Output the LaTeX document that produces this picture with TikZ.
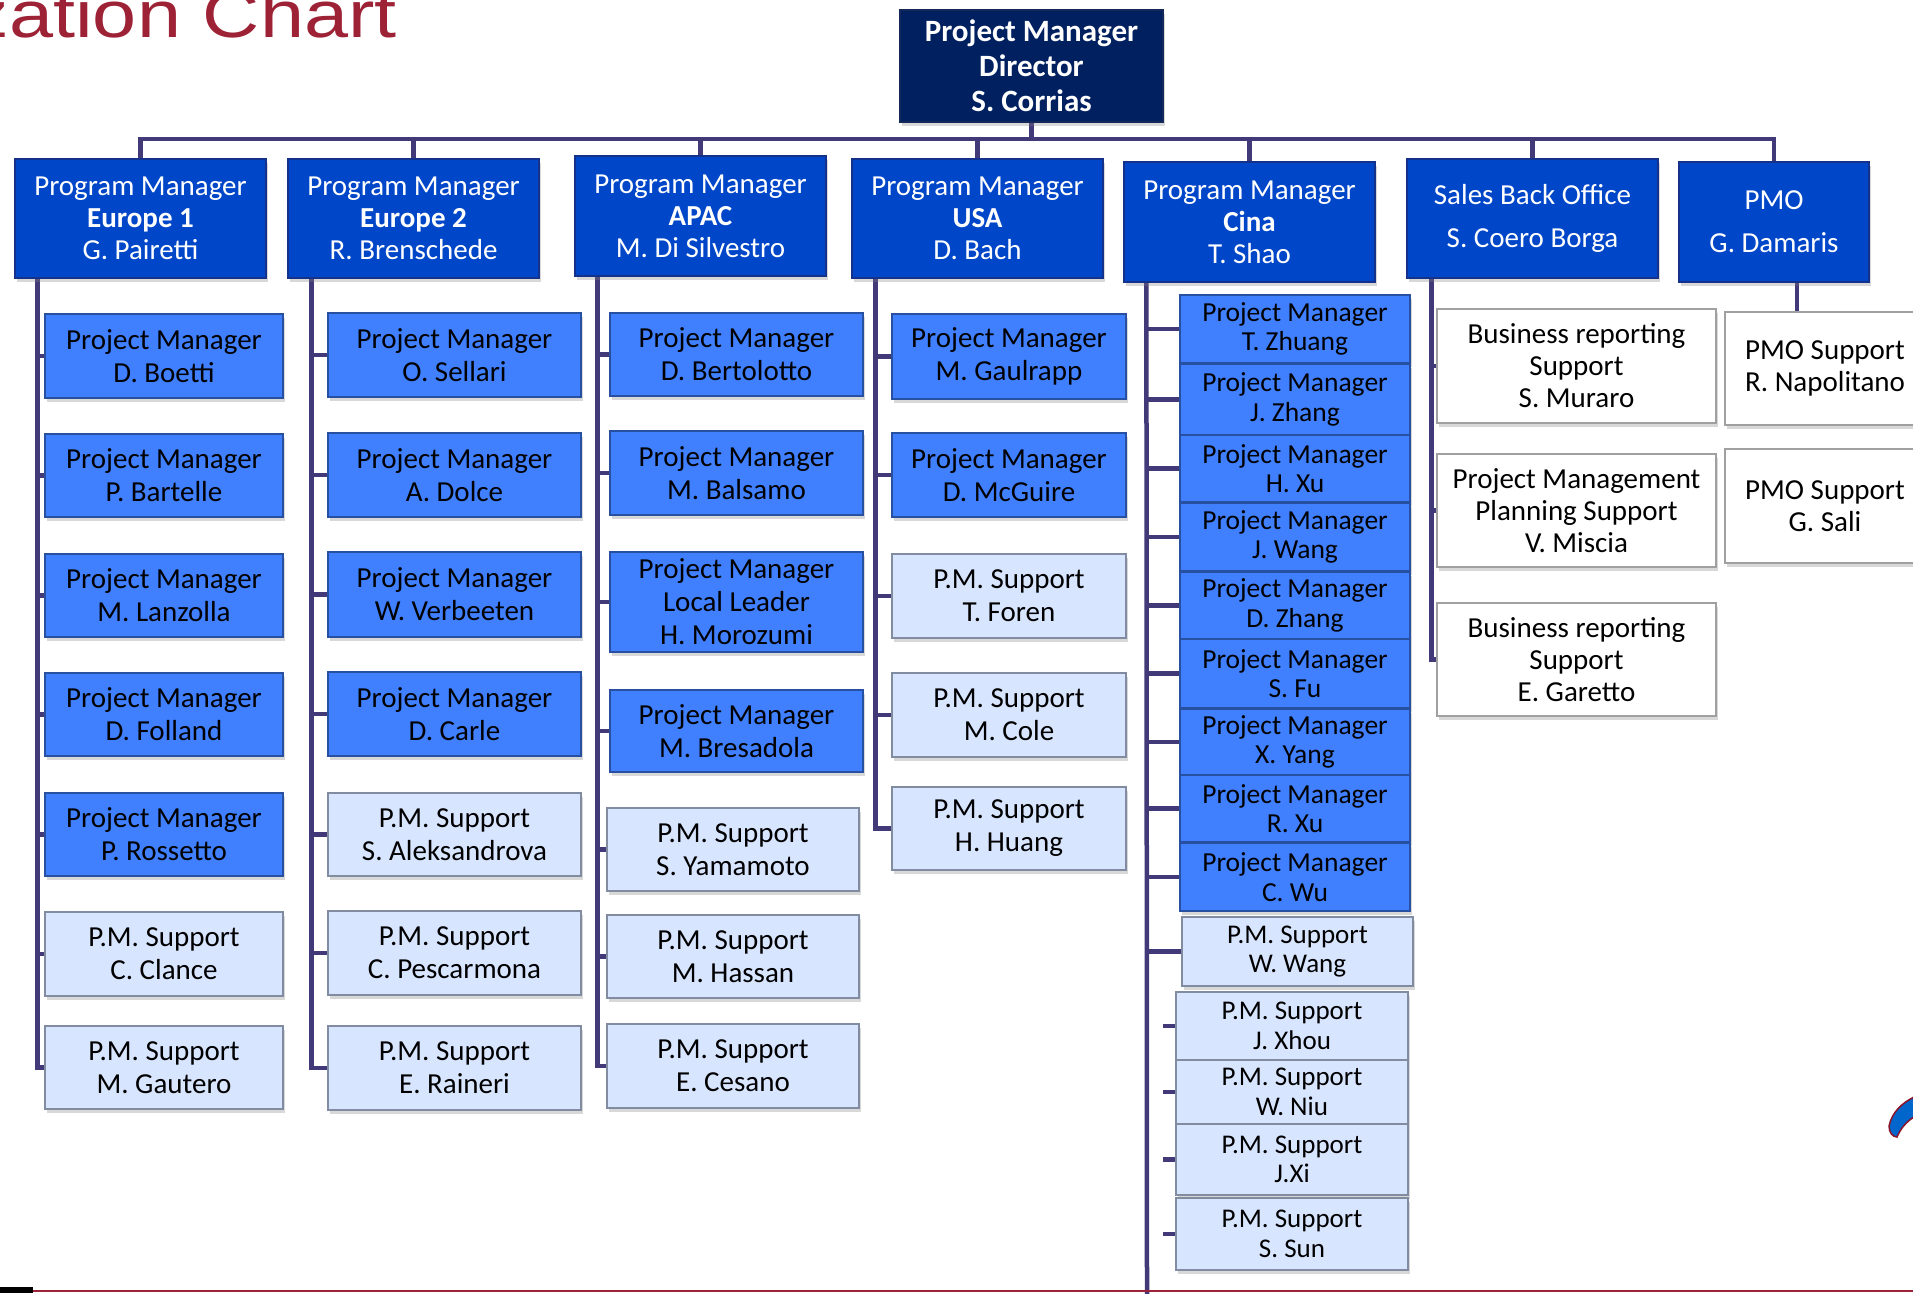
\documentclass[tikz,border=0pt]{standalone}
\usepackage{fontspec}
\setmainfont{Carlito}
\newfontfamily\titlefont{Liberation Sans}
\usetikzlibrary{shadows}
\pgfdeclarelayer{bg}
\pgfsetlayers{bg,main}
\definecolor{dirc}{RGB}{0,32,96}
\definecolor{dirb}{RGB}{20,40,90}
\definecolor{pgmc}{RGB}{0,70,200}
\definecolor{pgmb}{RGB}{20,50,140}
\definecolor{pmc}{RGB}{64,128,255}
\definecolor{pmb}{RGB}{40,80,160}
\definecolor{supc}{RGB}{216,229,255}
\definecolor{supb}{RGB}{130,140,160}
\definecolor{whb}{RGB}{160,160,160}
\definecolor{linec}{RGB}{66,58,120}
\definecolor{titlered}{RGB}{158,34,54}
\definecolor{swblue}{RGB}{0,102,204}
\definecolor{swred}{RGB}{140,20,40}
\tikzset{
  basebox/.style={draw, rectangle, inner sep=0pt, align=center, line width=1.2pt,
    drop shadow={opacity=0.3, shadow xshift=2pt, shadow yshift=-4pt}},
  dirbox/.style={basebox, fill=dirc, draw=dirb, text=white, font=\fontsize{31}{35}\selectfont\bfseries},
  pgmbox/.style={basebox, fill=pgmc, draw=pgmb, text=white, font=\fontsize{29}{32}\selectfont},
  pmbox/.style={basebox, fill=pmc, draw=pmb, text=black, font=\fontsize{29}{33}\selectfont},
  supbox/.style={basebox, fill=supc, draw=supb, text=black, font=\fontsize{29}{33}\selectfont},
  whbox/.style={basebox, fill=white, draw=whb, text=black, font=\fontsize{29}{32}\selectfont},
  cpmbox/.style={pmbox, font=\fontsize{27.5}{29.5}\selectfont},
  csupbox/.style={supbox, font=\fontsize{27}{29.5}\selectfont},
  link/.style={draw=linec, line width=4.5pt},
}
\newcommand{\boxat}[7]{\node[#2, minimum width={#5-#3}, minimum height={#6-#4}] (#1) at ({(#3+#5)/2},{(#4+#6)/2}) {#7};}
\begin{document}
\begin{tikzpicture}[x=1pt,y=-1pt]
\useasboundingbox (0,0) rectangle (1913,1293);
\clip (0,0) rectangle (1913,1293);
\begin{pgfonlayer}{bg}
\fill[white] (0,0) rectangle (1913,1293);
\end{pgfonlayer}
% title
\node[anchor=base east, inner sep=0pt, text=titlered] (title) at (397,37)
  {\scalebox{1.2}[1]{\titlefont\fontsize{66}{70}\selectfont Organization Chart}};
% bottom rule
\coordinate (rulel) at (33,1291);
\coordinate (ruler) at (1913,1291);
\draw[titlered, line width=2pt] (rulel) -- (ruler);
\fill[black] (0,1287) rectangle (33,1293);
% swoosh
\filldraw[fill=swblue, draw=swred, line width=1.5pt]
  (1889,1126) .. controls (1892,1112) and (1902,1103) .. (1914,1097)
  -- (1914,1117) .. controls (1906,1122) and (1901,1128) .. (1897,1137)
  .. controls (1893,1137) and (1889,1133) .. (1889,1126) -- cycle;

% level 0
\boxat{dir}{dirbox}{900}{10}{1163}{122}{Project Manager\\Director\\S. Corrias}
% level 1
\boxat{e1}{pgmbox}{15}{159}{266}{278}{Program Manager\\\textbf{Europe 1}\\G. Pairetti}
\boxat{e2}{pgmbox}{288}{159}{539}{278}{Program Manager\\\textbf{Europe 2}\\R. Brenschede}
\boxat{apac}{pgmbox}{575}{156}{826}{276}{Program Manager\\\textbf{APAC}\\M. Di Silvestro}
\boxat{usa}{pgmbox}{852}{159}{1103}{278}{Program Manager\\\textbf{USA}\\D. Bach}
\boxat{cina}{pgmbox}{1124}{162}{1375}{282}{Program Manager\\\textbf{Cina}\\T. Shao}
\boxat{sales}{pgmbox}{1407}{159}{1658}{278}{Sales Back Office\\[11pt]S. Coero Borga}
\boxat{pmo}{pgmbox}{1679}{162}{1869}{282}{PMO\\[11pt]G. Damaris}

% Europe 1
\boxat{boetti}{pmbox}{45}{314}{283}{398}{Project Manager\\D. Boetti}
\boxat{bartelle}{pmbox}{45}{434}{283}{517}{Project Manager\\P. Bartelle}
\boxat{lanzolla}{pmbox}{45}{554}{283}{637}{Project Manager\\M. Lanzolla}
\boxat{folland}{pmbox}{45}{673}{283}{756}{Project Manager\\D. Folland}
\boxat{rossetto}{pmbox}{45}{793}{283}{876}{Project Manager\\P. Rossetto}
\boxat{clance}{supbox}{45}{912}{283}{996}{P.M. Support\\C. Clance}
\boxat{gautero}{supbox}{45}{1026}{283}{1109}{P.M. Support\\M. Gautero}
% Europe 2
\boxat{sellari}{pmbox}{328}{313}{581}{397}{Project Manager\\O. Sellari}
\boxat{dolce}{pmbox}{328}{433}{581}{517}{Project Manager\\A. Dolce}
\boxat{verbeeten}{pmbox}{328}{552}{581}{637}{Project Manager\\W. Verbeeten}
\boxat{carle}{pmbox}{328}{672}{581}{756}{Project Manager\\D. Carle}
\boxat{aleks}{supbox}{328}{793}{581}{876}{P.M. Support\\S. Aleksandrova}
\boxat{pescar}{supbox}{328}{911}{581}{995}{P.M. Support\\C. Pescarmona}
\boxat{raineri}{supbox}{328}{1026}{581}{1110}{P.M. Support\\E. Raineri}
% APAC
\boxat{bertolotto}{pmbox}{610}{313}{863}{396}{Project Manager\\D. Bertolotto}
\boxat{balsamo}{pmbox}{610}{431}{863}{515}{Project Manager\\M. Balsamo}
\boxat{morozumi}{pmbox}{610}{552}{863}{652}{Project Manager\\Local Leader\\H. Morozumi}
\boxat{bresadola}{pmbox}{610}{690}{863}{772}{Project Manager\\M. Bresadola}
\boxat{yamamoto}{supbox}{607}{808}{859}{891}{P.M. Support\\S. Yamamoto}
\boxat{hassan}{supbox}{607}{915}{859}{998}{P.M. Support\\M. Hassan}
\boxat{cesano}{supbox}{607}{1024}{859}{1108}{P.M. Support\\E. Cesano}
% USA
\boxat{gaulrapp}{pmbox}{892}{314}{1126}{399}{Project Manager\\M. Gaulrapp}
\boxat{mcguire}{pmbox}{892}{433}{1126}{517}{Project Manager\\D. McGuire}
\boxat{foren}{supbox}{892}{554}{1126}{638}{P.M. Support\\T. Foren}
\boxat{cole}{supbox}{892}{673}{1126}{757}{P.M. Support\\M. Cole}
\boxat{huang}{supbox}{892}{787}{1126}{870}{P.M. Support\\H. Huang}
% Cina
\boxat{zhuang}{cpmbox}{1180}{295}{1410}{363}{Project Manager\\T. Zhuang}
\boxat{jzhang}{cpmbox}{1180}{364}{1410}{435}{Project Manager\\J. Zhang}
\boxat{hxu}{cpmbox}{1180}{435}{1410}{502}{Project Manager\\H. Xu}
\boxat{jwang}{cpmbox}{1180}{503}{1410}{571}{Project Manager\\J. Wang}
\boxat{dzhang}{cpmbox}{1180}{572}{1410}{639}{Project Manager\\D. Zhang}
\boxat{sfu}{cpmbox}{1180}{639}{1410}{708}{Project Manager\\S. Fu}
\boxat{xyang}{cpmbox}{1180}{709}{1410}{775}{Project Manager\\X. Yang}
\boxat{rxu}{cpmbox}{1180}{775}{1410}{842}{Project Manager\\R. Xu}
\boxat{cwu}{cpmbox}{1180}{843}{1410}{911}{Project Manager\\C. Wu}
\boxat{wwang}{csupbox}{1182}{917}{1413}{986}{P.M. Support\\W. Wang}
\boxat{jxhou}{csupbox}{1176}{992}{1408}{1060}{P.M. Support\\J. Xhou}
\boxat{wniu}{csupbox}{1176}{1060}{1408}{1124}{P.M. Support\\W. Niu}
\boxat{jxi}{csupbox}{1176}{1124}{1408}{1195}{P.M. Support\\J.Xi}
\boxat{ssun}{csupbox}{1176}{1198}{1408}{1270}{P.M. Support\\S. Sun}
% Sales
\boxat{muraro}{whbox}{1437}{309}{1716}{423}{Business reporting\\Support\\S. Muraro}
\boxat{miscia}{whbox}{1437}{454}{1716}{567}{Project Management\\Planning Support\\V. Miscia}
\boxat{garetto}{whbox}{1437}{603}{1716}{716}{Business reporting\\Support\\E. Garetto}
% PMO
\boxat{napoli}{whbox}{1725}{312}{1925}{425}{PMO Support\\R. Napolitano}
\boxat{sali}{whbox}{1725}{449}{1925}{563}{PMO Support\\G. Sali}

\begin{pgfonlayer}{bg}
% connectors: bus
\coordinate (bus) at (1031,139);
\draw[link] (dir.south) -- (dir.south |- bus);
\draw[link] (e1.north) -- (e1.north |- bus) -- (pmo.north |- bus) -- (pmo.north);
\foreach \n in {e2,apac,usa,cina,sales} \draw[link] (\n.north) -- (\n.north |- bus);
% column lines
\coordinate (c1) at ([xshift=23pt]e1.south west);
\draw[link] (c1) |- (gautero.west);
\foreach \n in {boetti,bartelle,lanzolla,folland,rossetto,clance} \draw[link] (\n.west) -- (\n.west -| c1);
\coordinate (c2) at ([xshift=24pt]e2.south west);
\draw[link] (c2) |- (raineri.west);
\foreach \n in {sellari,dolce,verbeeten,carle,aleks,pescar} \draw[link] (\n.west) -- (\n.west -| c2);
\coordinate (c3) at ([xshift=23pt]apac.south west);
\draw[link] (c3) |- (cesano.west);
\foreach \n in {bertolotto,balsamo,morozumi,bresadola,yamamoto,hassan} \draw[link] (\n.west) -- (\n.west -| c3);
\coordinate (c4) at ([xshift=24pt]usa.south west);
\draw[link] (c4) |- (huang.west);
\foreach \n in {gaulrapp,mcguire,foren,cole} \draw[link] (\n.west) -- (\n.west -| c4);
\coordinate (c5) at ([xshift=23pt]cina.south west);
\coordinate (c5end) at (1147,1295);
\draw[link] (c5) -- (c5end);
\foreach \n in {zhuang,jzhang,hxu,jwang,dzhang,sfu,xyang,rxu,cwu,wwang} \draw[link] (\n.west) -- (\n.west -| c5);
\foreach \n in {jxhou,wniu,jxi,ssun} \draw[link] (\n.west) -- ++(-12,0);
\coordinate (c6) at ([xshift=25pt]sales.south west);
\draw[link] (c6) |- (garetto.west);
\foreach \n in {muraro,miscia} \draw[link] (\n.west) -- (\n.west -| c6);
\coordinate (c7) at ([xshift=23pt]pmo.south);
\draw[link] (c7) -- (c7 |- napoli.north);
\end{pgfonlayer}
\end{tikzpicture}
\end{document}
